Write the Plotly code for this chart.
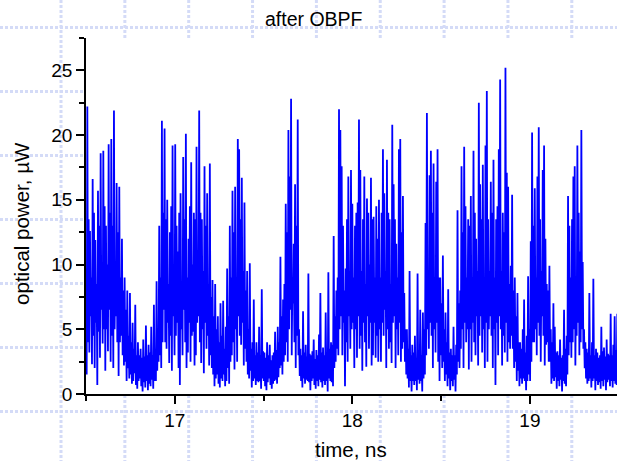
import plotly.graph_objects as go

# ---- data ----
# The trace is sampled every 0.0075 ns; within each sample slot the signal
# swings between an upper and a lower reading (both read off the picture).
t_start_ns = 16.5
t_step_ns = 0.0075
upper_uW = [
    8.0, 22.2, 13.5, 12.6, 9.0, 16.6, 14.0, 11.9, 8.5, 15.7, 13.0, 18.6, 9.5, 18.8, 14.5, 13.0, 10.0, 19.3, 14.0, 19.7,
    13.0, 21.9, 9.5, 16.3, 12.5, 16.0, 9.0, 12.0, 8.0, 9.0, 6.5, 8.0, 4.5, 7.8, 4.0, 5.5, 3.5, 6.9, 3.0, 4.0,
    3.0, 3.5, 2.8, 4.2, 2.9, 5.3, 3.0, 3.8, 3.2, 5.2, 3.0, 6.9, 3.5, 8.7, 5.0, 13.0, 9.0, 21.1, 14.0, 20.5,
    13.5, 15.0, 8.5, 12.5, 14.5, 19.2, 9.5, 19.3, 13.0, 11.0, 14.0, 15.5, 8.0, 18.3, 13.5, 20.1, 9.0, 12.0, 14.5, 17.9,
    10.0, 14.0, 13.5, 19.1, 9.0, 21.9, 14.0, 13.5, 9.5, 17.6, 13.0, 15.5, 8.5, 17.8, 7.5, 8.8, 6.0, 8.5, 5.0, 6.0,
    4.0, 7.0, 4.5, 7.2, 3.5, 5.2, 9.7, 6.0, 13.0, 9.0, 15.7, 12.5, 16.0, 9.0, 19.7, 18.9, 13.5, 16.7, 9.5, 14.8,
    8.0, 9.5, 5.0, 10.1, 3.5, 4.0, 7.3, 3.0, 4.0, 3.2, 5.2, 3.0, 8.1, 3.3, 3.2, 2.8, 4.0, 3.0, 3.8, 2.6,
    3.0, 3.2, 4.8, 3.4, 5.2, 4.0, 10.6, 6.0, 7.3, 8.5, 14.7, 12.5, 20.4, 16.8, 22.8, 9.0, 11.6, 16.2, 13.0, 21.2,
    5.0, 3.5, 3.0, 6.4, 3.2, 3.8, 2.9, 9.3, 3.1, 3.0, 3.3, 4.2, 2.7, 3.4, 3.0, 4.6, 7.8, 3.2, 3.6, 3.0,
    6.3, 3.0, 9.4, 3.5, 4.0, 3.8, 12.2, 6.0, 8.0, 9.0, 22.0, 20.4, 17.6, 13.0, 8.0, 9.7, 13.5, 16.8, 9.5, 17.3,
    14.7, 9.0, 13.0, 14.0, 14.8, 21.2, 17.3, 9.5, 13.5, 16.8, 8.5, 15.1, 14.0, 10.0, 16.7, 13.5, 13.7, 9.0, 14.5, 12.0,
    15.0, 9.0, 14.0, 18.9, 15.5, 9.5, 18.1, 14.0, 13.5, 8.5, 20.8, 16.2, 13.5, 11.6, 9.0, 18.9, 19.7, 12.5, 15.3, 7.8,
    5.0, 5.0, 3.5, 9.5, 3.0, 3.8, 3.2, 4.5, 2.8, 9.3, 3.4, 6.5, 3.0, 6.3, 5.0, 13.2, 21.7, 9.5, 16.9, 18.8,
    14.0, 17.8, 9.0, 16.4, 18.9, 9.0, 9.0, 7.0, 10.7, 5.0, 6.3, 4.0, 8.1, 3.2, 3.5, 3.0, 5.2, 3.0, 3.8, 14.2,
    7.0, 8.0, 17.6, 12.5, 19.1, 14.5, 9.0, 13.5, 13.0, 15.3, 9.0, 18.8, 14.0, 12.0, 9.5, 22.5, 16.2, 13.5, 17.7, 9.0,
    19.2, 23.4, 13.5, 9.5, 16.4, 14.0, 18.1, 9.0, 13.5, 14.5, 18.9, 24.3, 9.5, 14.0, 12.5, 25.2, 17.1, 16.0, 8.5, 9.9,
    15.4, 8.0, 9.0, 6.0, 7.8, 4.0, 4.0, 3.5, 5.0, 7.3, 3.2, 4.5, 9.1, 5.0, 11.8, 20.2, 13.0, 15.9, 9.0, 16.8,
    20.6, 13.5, 9.5, 17.3, 19.2, 12.0, 8.5, 8.0, 9.9, 5.0, 4.0, 7.0, 5.2, 3.2, 3.3, 3.0, 4.2, 2.8, 3.0, 6.5,
    3.5, 4.5, 15.3, 13.0, 9.0, 13.5, 16.8, 17.6, 9.0, 19.2, 14.0, 11.0, 20.4, 10.2, 5.0, 4.0, 3.5, 3.2, 7.8, 3.0,
    4.0, 8.9, 3.0, 3.5, 3.2, 2.8, 3.0, 5.2, 3.3, 3.6, 2.9, 4.2, 3.1, 3.0, 6.2, 3.0, 3.8, 6.0, 3.4, 6.2,
]
lower_uW = [
    1.5, 4.0, 3.2, 6.0, 2.3, 4.5, 2.0, 5.5, 0.7, 4.8, 2.8, 6.5, 3.9, 5.0, 1.8, 5.0, 3.3, 6.5, 2.5, 4.5,
    2.0, 5.0, 6.0, 4.0, 1.4, 4.0, 4.5, 3.0, 2.2, 2.5, 1.0, 2.0, 1.2, 1.5, 0.8, 1.0, 1.6, 0.7, 0.4, 1.0,
    1.2, 0.6, 0.2, 0.9, 0.5, 1.0, 0.3, 0.8, 0.6, 1.1, 0.4, 1.0, 1.0, 1.8, 2.5, 3.0, 2.0, 4.0, 6.5, 4.0,
    3.5, 5.5, 2.4, 4.5, 1.8, 6.0, 3.0, 4.5, 5.5, 2.0, 0.7, 5.0, 3.0, 6.5, 4.0, 2.0, 3.2, 5.5, 2.5, 4.5,
    4.8, 2.2, 3.0, 5.5, 6.0, 4.0, 2.4, 5.0, 1.6, 5.5, 3.5, 4.5, 2.2, 3.0, 2.0, 1.5, 0.6, 1.2, 1.5, 0.8,
    0.5, 1.2, 1.0, 1.5, 0.6, 1.0, 2.0, 0.8, 2.5, 3.0, 4.0, 1.9, 5.0, 2.5, 6.0, 4.5, 3.8, 5.5, 2.2, 3.5,
    2.5, 1.5, 1.2, 1.8, 0.5, 1.0, 1.2, 0.7, 1.0, 0.9, 1.0, 0.4, 1.2, 1.0, 0.6, 0.3, 0.9, 1.2, 0.7, 0.4,
    0.8, 1.0, 1.1, 0.8, 1.3, 2.0, 2.2, 1.5, 2.5, 3.0, 4.0, 2.5, 5.0, 6.5, 3.0, 7.0, 4.0, 2.0, 4.5, 3.0,
    1.4, 1.0, 0.5, 1.2, 0.8, 1.1, 1.0, 0.9, 0.3, 1.0, 1.2, 0.7, 0.4, 1.0, 0.6, 1.1, 0.9, 0.5, 1.0, 0.7,
    1.0, 0.2, 1.2, 1.0, 0.9, 0.6, 2.0, 2.5, 3.5, 3.0, 5.0, 6.0, 3.0, 5.5, 0.6, 4.0, 2.5, 6.0, 3.5, 5.0,
    5.5, 2.0, 5.0, 2.8, 6.0, 3.5, 4.5, 1.8, 5.5, 4.0, 2.1, 6.0, 3.5, 5.5, 2.2, 3.0, 5.5, 2.8, 4.5, 2.5,
    5.0, 2.5, 5.5, 4.5, 6.5, 2.0, 5.0, 3.5, 4.0, 2.4, 5.5, 6.0, 2.0, 5.0, 3.0, 5.5, 2.5, 3.5, 4.0, 2.5,
    1.5, 1.2, 0.5, 1.0, 0.2, 1.0, 0.7, 1.0, 0.3, 1.1, 0.8, 1.0, 0.2, 1.2, 1.5, 3.0, 5.0, 3.5, 5.5, 4.5,
    2.0, 5.0, 3.2, 5.5, 2.5, 1.0, 3.0, 2.0, 2.5, 1.0, 1.5, 0.6, 1.2, 0.3, 1.0, 0.6, 1.1, 0.2, 1.5, 2.5,
    2.0, 3.5, 5.0, 2.0, 5.5, 4.0, 5.0, 1.9, 5.0, 2.5, 5.5, 4.0, 3.0, 6.0, 2.2, 4.5, 6.0, 3.2, 5.0, 2.0,
    5.5, 2.5, 5.0, 6.0, 4.5, 2.0, 5.0, 0.7, 5.5, 3.0, 6.0, 5.0, 2.2, 4.5, 3.2, 5.5, 2.5, 4.0, 3.5, 4.5,
    3.5, 2.0, 2.5, 1.0, 1.8, 0.6, 1.2, 0.8, 1.2, 1.0, 0.3, 1.0, 1.5, 1.0, 2.5, 4.0, 4.0, 5.0, 3.0, 5.5,
    4.5, 2.5, 6.0, 4.5, 2.2, 3.8, 4.0, 2.5, 2.5, 0.8, 1.2, 1.0, 1.3, 0.4, 1.0, 0.6, 1.1, 0.2, 1.0, 0.8,
    0.6, 1.5, 3.0, 4.0, 2.8, 4.0, 5.0, 2.2, 4.5, 5.5, 3.0, 4.0, 5.0, 3.5, 2.0, 1.2, 0.8, 1.0, 1.2, 0.5,
    1.0, 1.2, 0.3, 1.0, 0.7, 0.9, 0.4, 1.0, 0.6, 1.1, 0.3, 0.9, 1.1, 0.6, 1.0, 0.5, 1.0, 0.8, 0.7, 1.2,
]

# interleave the two typed readings into one time series
time_ns, power_uW = [], []
for k, (hi, lo) in enumerate(zip(upper_uW, lower_uW)):
    t = t_start_ns + t_step_ns * k
    time_ns += [round(t, 5), round(t + t_step_ns / 2, 5)]
    power_uW += [hi, lo]

x_ticks = [17, 18, 19]
x_tick_labels = ["17", "18", "19"]
y_ticks = [0, 5, 10, 15, 20, 25]
y_tick_labels = ["0", "5", "10", "15", "20", "25"]

title_text = "after OBPF"
x_title = "time, ns"
y_title = "optical power, \u00b5W"

# ---- layout geometry (pixels) ----
W, H = 617, 461
ML, MR, MT, MB = 86, 0, 38, 67
PW, PH = W - ML - MR, H - MT - MB
px_per_ns = 177.55


def px_to_paper_x(px):
    return (px - ML) / PW


def px_to_paper_y(py):
    return (H - MB - py) / PH


FONT = "Liberation Sans, Arial, Helvetica, sans-serif"

fig = go.Figure()
fig.add_trace(go.Scatter(
    x=time_ns, y=power_uW, mode="lines",
    line=dict(color="#0000ff", width=1.8),
    hoverinfo="skip", showlegend=False,
))

# decorative slide background: dotted light-blue grid outside the plot area
pat_color = "rgb(212,219,247)"
h_lines = [27.5 + 64 * k for k in range(8)]
v_lines = [61 + 63.85 * k for k in range(10)]
shapes = []
for yy in h_lines:
    shapes.append(dict(type="line", xref="paper", yref="paper", layer="below",
                       x0=px_to_paper_x(0), x1=px_to_paper_x(W),
                       y0=px_to_paper_y(yy), y1=px_to_paper_y(yy),
                       line=dict(color=pat_color, width=3, dash="3px,2px")))
for xx in v_lines:
    shapes.append(dict(type="line", xref="paper", yref="paper", layer="below",
                       x0=px_to_paper_x(xx), x1=px_to_paper_x(xx),
                       y0=px_to_paper_y(0), y1=px_to_paper_y(H),
                       line=dict(color=pat_color, width=3, dash="3px,2px")))
shapes.append(dict(type="rect", xref="paper", yref="paper", layer="below",
                   x0=0, x1=1.02, y0=0, y1=1, fillcolor="white", line=dict(width=0)))

annotations = [
    dict(text=title_text, xref="paper", yref="paper",
         x=px_to_paper_x(314), y=px_to_paper_y(19), xanchor="center", yanchor="middle",
         showarrow=False, font=dict(family=FONT, size=19.5, color="black")),
    dict(text=x_title, xref="paper", yref="paper",
         x=px_to_paper_x(351), y=px_to_paper_y(449), xanchor="center", yanchor="middle",
         showarrow=False, font=dict(family=FONT, size=20.5, color="black")),
    dict(text=y_title, xref="paper", yref="paper", textangle=-90,
         x=px_to_paper_x(21.5), y=px_to_paper_y(223.4), xanchor="center", yanchor="middle",
         showarrow=False, font=dict(family=FONT, size=20.5, color="black")),
]

fig.update_layout(
    width=W, height=H,
    margin=dict(l=ML, r=MR, t=MT, b=MB, pad=0),
    paper_bgcolor="white", plot_bgcolor="rgba(0,0,0,0)",
    shapes=shapes, annotations=annotations,
    showlegend=False,
    font=dict(family=FONT, color="black"),
)
fig.update_xaxes(
    range=[16.5, 16.5 + PW / px_per_ns],
    showline=True, linecolor="black", linewidth=1.5, mirror=False,
    showgrid=False, zeroline=False,
    ticks="outside", ticklen=8, tickwidth=1.5, tickcolor="black",
    tickvals=x_ticks, ticktext=x_tick_labels,
    tickfont=dict(family=FONT, size=19, color="black"),
    minor=dict(ticks="outside", ticklen=5, tickwidth=1.5, tickcolor="black",
               tick0=16.5, dtick=0.5, showgrid=False),
)
fig.update_yaxes(
    range=[0, 27.5],
    showline=True, linecolor="black", linewidth=1.5, mirror=False,
    showgrid=False, zeroline=False,
    ticks="outside", ticklen=8, tickwidth=1.5, tickcolor="black",
    tickvals=y_ticks, ticktext=y_tick_labels,
    tickfont=dict(family=FONT, size=19, color="black"),
    minor=dict(ticks="outside", ticklen=5, tickwidth=1.5, tickcolor="black",
               tick0=0, dtick=2.5, showgrid=False),
)

fig.write_html("out.html")
